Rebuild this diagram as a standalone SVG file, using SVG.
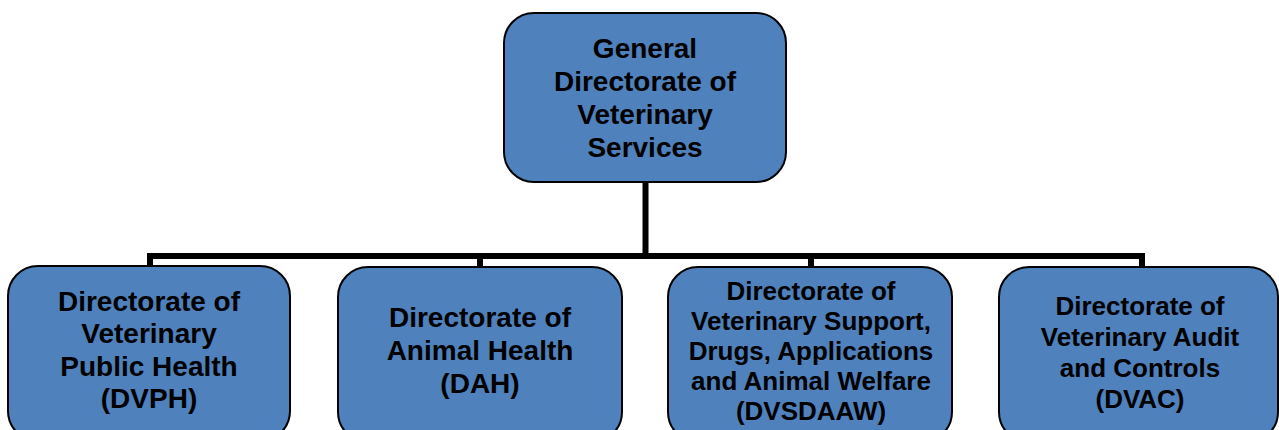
<svg xmlns="http://www.w3.org/2000/svg" width="1279" height="430" viewBox="0 0 1279 430">
<style>
.box{fill:#4F81BD;stroke:#000;stroke-width:2}
.t{font-family:"Liberation Sans",Arial,sans-serif;font-weight:bold;fill:#000;text-anchor:middle}
.l{font-size:28px}
.s{font-size:26px}
.conn{fill:none;stroke:#000;stroke-width:6;stroke-linecap:butt}
</style>
<rect width="1279" height="430" fill="#fff"/>
<g id="connectors">
<path class="conn" d="M645.5 182 V256 M147 256 H1145 M150 256 V267 M480 256 V267 M811 256 V267 M1142 256 V267"/>
</g>
<g id="n0">
<rect class="box" x="504" y="13" width="282" height="169" rx="30"/>
<text class="t l" x="645" y="58">General</text>
<text class="t l" x="645" y="91">Directorate of</text>
<text class="t l" x="645" y="124">Veterinary</text>
<text class="t l" x="645" y="157">Services</text>
</g>
<g id="n1">
<rect class="box" x="8" y="266" width="282" height="175" rx="30"/>
<text class="t l" x="149" y="311">Directorate of</text>
<text class="t l" x="149" y="343">Veterinary</text>
<text class="t l" x="149" y="376">Public Health</text>
<text class="t l" x="149" y="408">(DVPH)</text>
</g>
<g id="n2">
<rect class="box" x="338" y="267" width="284" height="175" rx="30"/>
<text class="t l" x="480" y="327">Directorate of</text>
<text class="t l" x="480" y="360">Animal Health</text>
<text class="t l" x="480" y="393">(DAH)</text>
</g>
<g id="n3">
<rect class="box" x="668" y="267" width="284" height="175" rx="30"/>
<text class="t s" x="811" y="300">Directorate of</text>
<text class="t s" x="811" y="330">Veterinary Support,</text>
<text class="t s" x="811" y="360">Drugs, Applications</text>
<text class="t s" x="811" y="390">and Animal Welfare</text>
<text class="t s" x="811" y="420">(DVSDAAW)</text>
</g>
<g id="n4">
<rect class="box" x="999" y="267" width="279" height="175" rx="30"/>
<text class="t s" x="1140" y="315">Directorate of</text>
<text class="t s" x="1140" y="346">Veterinary Audit</text>
<text class="t s" x="1140" y="377">and Controls</text>
<text class="t s" x="1140" y="408">(DVAC)</text>
</g>
</svg>
